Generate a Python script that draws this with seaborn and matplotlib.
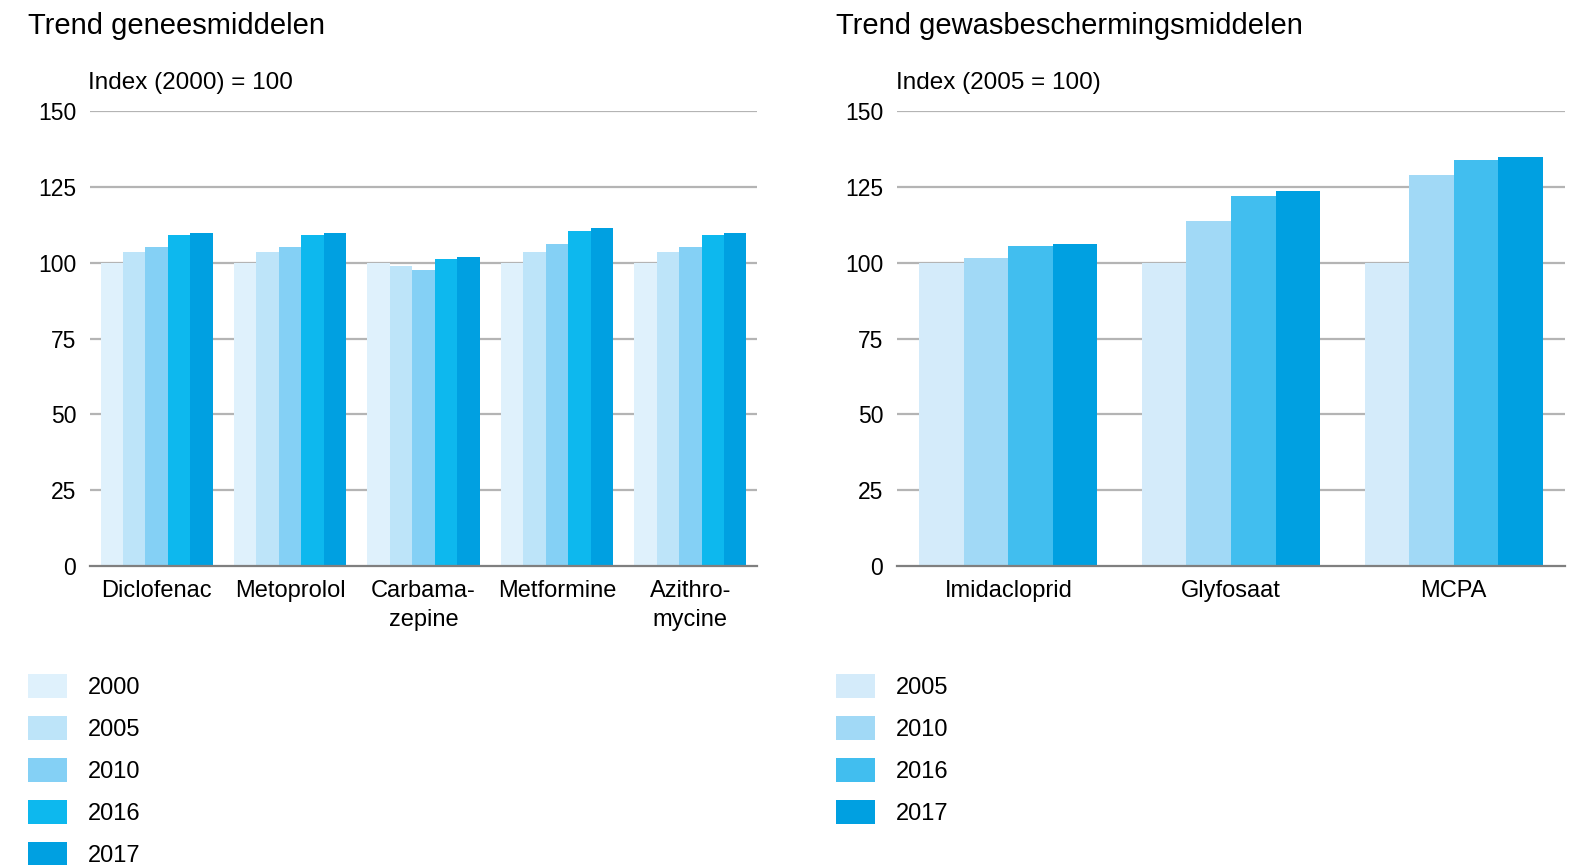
import numpy as np
import pandas as pd
import matplotlib
matplotlib.use("Agg")
import matplotlib.pyplot as plt
import seaborn as sns
from matplotlib.patches import Patch

# geneesmiddelen, index 2000 = 100
med_stoffen = ["Diclofenac", "Metoprolol", "Carbama-\nzepine", "Metformine", "Azithro-\nmycine"]
med_jaren = ["2000", "2005", "2010", "2016", "2017"]
med_2000 = [100, 100, 100, 100, 100]
med_2005 = [103.5, 103.5, 99.0, 103.5, 103.5]
med_2010 = [105.2, 105.2, 97.6, 106.2, 105.2]
med_2016 = [109.1, 109.1, 101.2, 110.4, 109.1]
med_2017 = [109.8, 109.8, 101.9, 111.4, 109.8]
med_kleuren = ["#DFF1FC", "#BDE4F9", "#84D0F5", "#0DB8EE", "#00A0E1"]

# gewasbeschermingsmiddelen, index 2005 = 100
gbm_stoffen = ["Imidacloprid", "Glyfosaat", "MCPA"]
gbm_jaren = ["2005", "2010", "2016", "2017"]
gbm_2005 = [100, 100, 100]
gbm_2010 = [101.6, 113.8, 128.9]
gbm_2016 = [105.6, 122.0, 133.8]
gbm_2017 = [106.2, 123.6, 134.8]
gbm_kleuren = ["#D4EBFA", "#A1D9F6", "#41BEEF", "#00A0E1"]

yticks = [0, 25, 50, 75, 100, 125, 150]

FONT = ["Liberation Sans", "DejaVu Sans"]


def to_long(stoffen, jaren, series):
    rows = []
    for jaar, vals in zip(jaren, series):
        for s, v in zip(stoffen, vals):
            rows.append({"stof": s, "jaar": jaar, "index": v})
    return pd.DataFrame(rows)


def draw_panel(ax, df, stoffen, jaren, kleuren, width):
    sns.barplot(data=df, x="stof", y="index", hue="jaar", order=stoffen,
                hue_order=jaren, palette=kleuren, width=width, saturation=1,
                errorbar=None, ax=ax, legend=False, zorder=3, linewidth=0)
    ax.set_xlim(-0.5, len(stoffen) - 0.5)
    ax.set_ylim(0, 150)
    ax.set_yticks(yticks)
    ax.set_yticklabels([str(t) for t in yticks])
    for t in yticks[1:]:
        ax.axhline(t, color="#B4B4B4", lw=1.6, zorder=1)
    for side in ["top", "right", "left"]:
        ax.spines[side].set_visible(False)
    ax.spines["bottom"].set_color("#7F7F7F")
    ax.spines["bottom"].set_linewidth(1.6)
    ax.spines["bottom"].set_zorder(4)
    ax.tick_params(axis="both", length=0, labelcolor="black")
    ax.tick_params(axis="y", pad=10, labelsize=16.5)
    ax.tick_params(axis="x", pad=10, labelsize=17)
    ax.set_xlabel("")
    ax.set_ylabel("")
    for lab in ax.get_xticklabels():
        lab.set_linespacing(1.4)
    for lab in ax.get_xticklabels() + ax.get_yticklabels():
        lab.set_family(FONT)


sns.set_theme(style="white")
plt.rcParams["font.family"] = FONT
plt.rcParams["text.color"] = "black"

fig = plt.figure(figsize=(15.74, 8.65), dpi=100)
ax1 = fig.add_axes([90 / 1574, 1 - 566 / 865, 667 / 1574, 455 / 865])
ax2 = fig.add_axes([897 / 1574, 1 - 566 / 865, 668 / 1574, 455 / 865])

df_med = to_long(med_stoffen, med_jaren, [med_2000, med_2005, med_2010, med_2016, med_2017])
df_gbm = to_long(gbm_stoffen, gbm_jaren, [gbm_2005, gbm_2010, gbm_2016, gbm_2017])

draw_panel(ax1, df_med, med_stoffen, med_jaren, med_kleuren, 0.84)
draw_panel(ax2, df_gbm, gbm_stoffen, gbm_jaren, gbm_kleuren, 0.80)

fig.text(28 / 1574, 1 - 34 / 865, "Trend geneesmiddelen", fontsize=21, va="baseline", ha="left")
fig.text(836 / 1574, 1 - 34 / 865, "Trend gewasbeschermingsmiddelen", fontsize=21, va="baseline", ha="left")
fig.text(88 / 1574, 1 - 89 / 865, "Index (2000) = 100", fontsize=17.5, va="baseline", ha="left")
fig.text(896 / 1574, 1 - 89 / 865, "Index (2005 = 100)", fontsize=17.5, va="baseline", ha="left")

for ax, jaren, kleuren, x0 in [(ax1, med_jaren, med_kleuren, 28), (ax2, gbm_jaren, gbm_kleuren, 836)]:
    handles = [Patch(facecolor=c, edgecolor="none", label=j) for j, c in zip(jaren, kleuren)]
    fig.legend(handles=handles, loc="upper left", bbox_to_anchor=(x0 / 1574, 1 - 674 / 865),
               frameon=False, fontsize=17, handlelength=1.65, handleheight=1.2,
               handletextpad=0.9, labelspacing=0.72, borderpad=0, borderaxespad=0)

fig.savefig("out.png", dpi=100)
